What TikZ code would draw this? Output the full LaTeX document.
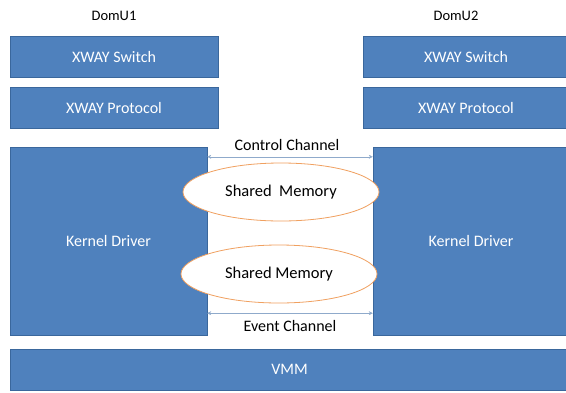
\documentclass[tikz,border=0pt]{standalone}
\usepackage{fontspec}
\setmainfont{Carlito}
\usetikzlibrary{arrows.meta,shapes.geometric,calc}
\definecolor{boxblue}{HTML}{4F81BD}
\definecolor{boxedge}{HTML}{3A679C}
\definecolor{memorange}{HTML}{F0A060}
\definecolor{chanblue}{HTML}{8FAACB}
\tikzset{
  layer/.style={draw=boxedge,fill=boxblue,text=white,font=\fontsize{16}{18}\selectfont,inner sep=0pt},
  shmem/.style={ellipse,draw=memorange,thick,fill=white,minimum width=196pt,minimum height=58pt,font=\fontsize{16.5}{18}\selectfont},
  chan/.style={chanblue,{Stealth[length=4pt,width=4pt]}-{Stealth[length=4pt,width=4pt]}},
  lbl/.style={font=\fontsize{16}{18}\selectfont}
}
\begin{document}
\begin{tikzpicture}[x=1pt,y=-1pt]
    \useasboundingbox (0,0) rectangle (566,392);
    \node[lbl,font=\fontsize{14.5}{16}\selectfont] (d1) at (114,16) {DomU1};
    \node[lbl,font=\fontsize{14.5}{16}\selectfont] (d2) at (456,16) {DomU2};
    \node[layer,minimum width=208pt,minimum height=41pt] (sw1) at (114,56.5) {XWAY Switch};
    \node[layer,minimum width=208pt,minimum height=41pt] (pr1) at (114,107.5) {XWAY Protocol};
    \node[layer,minimum width=206pt,minimum height=41pt] (sw2) at (466,56.5) {XWAY Switch};
    \node[layer,minimum width=206pt,minimum height=41pt] (pr2) at (466,107.5) {XWAY Protocol};
    \node[layer,minimum width=197pt,minimum height=188pt] (kd1) at (108.5,241) {Kernel Driver};
    \node[layer,minimum width=196pt,minimum height=188pt] (kd2) at (471,241) {Kernel Driver};
    \node[layer,minimum width=559pt,minimum height=41pt] (vmm) at (289.5,369.5) {VMM};
    % channels between the two drivers
    \coordinate (c1) at ($(kd1.north east)+(0,10)$);
    \coordinate (c2) at ($(kd2.north west)+(0,10)$);
    \coordinate (e1) at ($(kd1.south east)+(0,-22)$);
    \coordinate (e2) at ($(kd2.south west)+(0,-22)$);
    \draw[chan] (c1) -- (c2);
    \draw[chan] (e1) -- (e2);
    \node[lbl] (ctl) at (287,145) {Control Channel};
    \node[lbl] (evt) at (290,326) {Event Channel};
    \node[shmem] (m1) at (281,192) {Shared\ \ Memory};
    \node[shmem] (m2) at (279,274) {Shared Memory};
  \end{tikzpicture}
\end{document}
